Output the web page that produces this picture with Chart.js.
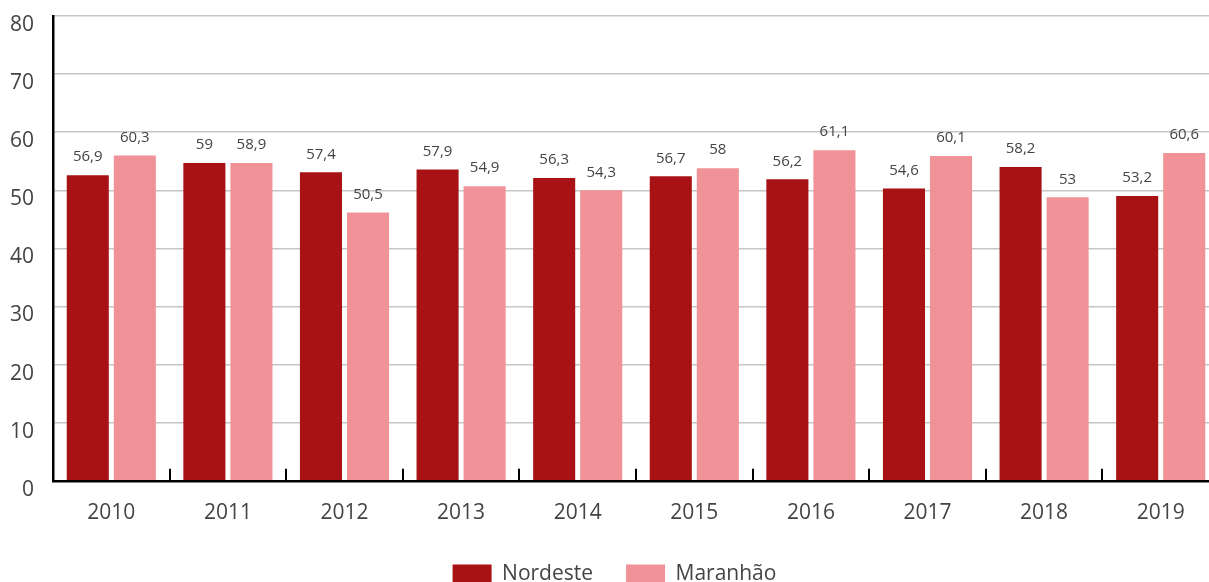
<!DOCTYPE html>
<html>
<head>
<meta charset="utf-8">
<script src="https://cdn.jsdelivr.net/npm/chart.js@4.4.0/dist/chart.umd.min.js"></script>
<style>
  body { margin: 0; overflow: hidden; background: #fff; }
  #wrap { width: 1229px; height: 595px; }
</style>
</head>
<body>
<div id="wrap"><canvas id="chart"></canvas></div>
<script>
// anos
const years = ['2010', '2011', '2012', '2013', '2014', '2015', '2016', '2017', '2018', '2019'];
// altura das barras como aparecem no gráfico
const nordeste = [52.6, 54.7, 53.1, 53.6, 52.1, 52.4, 51.9, 50.3, 54.0, 49.0];
const maranhao = [56.0, 54.7, 46.2, 50.7, 50.0, 53.8, 56.9, 55.9, 48.8, 56.4];
// rótulos escritos em cima das barras
const nordesteLabels = [56.9, 59, 57.4, 57.9, 56.3, 56.7, 56.2, 54.6, 58.2, 53.2];
const maranhaoLabels = [60.3, 58.9, 50.5, 54.9, 54.3, 58, 61.1, 60.1, 53, 60.6];
const yTicks = [0, 10, 20, 30, 40, 50, 60, 70, 80];

const FONT = "'Open Sans', sans-serif";
const TEXT = '#444444';

// rótulos acima das barras
const barLabels = {
    id: 'barLabels',
    afterDatasetsDraw(chart) {
        const ctx = chart.ctx;
        const all = [nordesteLabels, maranhaoLabels];
        ctx.save();
        ctx.font = '15px ' + FONT;
        ctx.fillStyle = TEXT;
        ctx.textAlign = 'center';
        ctx.textBaseline = 'middle';
        chart.data.datasets.forEach((ds, i) => {
            chart.getDatasetMeta(i).data.forEach((bar, j) => {
                const txt = String(all[i][j]).replace('.', ',');
                ctx.fillText(txt, bar.x, bar.y - 18);
            });
        });
        ctx.restore();
    }
};

// pequenas marcas entre os anos no eixo x
const xMarks = {
    id: 'xMarks',
    afterDraw(chart) {
        const ctx = chart.ctx;
        const x = chart.scales.x;
        const bottom = chart.chartArea.bottom;
        ctx.save();
        ctx.strokeStyle = '#000';
        ctx.lineWidth = 2;
        for (let i = 1; i < years.length; i++) {
            const px = Math.round((x.getPixelForTick(i - 1) + x.getPixelForTick(i)) / 2);
            ctx.beginPath();
            ctx.moveTo(px, bottom - 12);
            ctx.lineTo(px, bottom);
            ctx.stroke();
        }
        ctx.restore();
    }
};

new Chart(document.getElementById('chart'), {
    type: 'bar',
    data: {
        labels: years,
        datasets: [
            { label: 'Nordeste', data: nordeste, backgroundColor: '#a81214' },
            { label: 'Maranhão', data: maranhao, backgroundColor: '#f09297' }
        ]
    },
    options: {
        responsive: true,
        maintainAspectRatio: false,
        animation: false,
        datasets: { bar: { categoryPercentage: 0.807, barPercentage: 0.894 } },
        layout: { padding: { left: 10, right: 10, top: 16, bottom: 0 } },
        scales: {
            x: {
                offset: true,
                afterFit(scale) { scale.height -= 15; },
                grid: { display: false, drawTicks: false },
                border: { color: '#000', width: 2.5 },
                ticks: { color: TEXT, font: { family: FONT, size: 21 }, padding: 20, maxRotation: 0 }
            },
            y: {
                min: 0,
                max: 80,
                afterBuildTicks(scale) { scale.ticks = yTicks.map(v => ({ value: v })); },
                afterFit(scale) {
                    scale.width = 43;
                    scale.paddingTop = 0;
                    scale.paddingBottom = 0;
                },
                grid: { color: '#c6c6c6', lineWidth: 1.5, drawTicks: false },
                border: { color: '#000', width: 2.5 },
                ticks: { color: TEXT, font: { family: FONT, size: 21 }, padding: 19, labelOffset: 9 }
            }
        },
        plugins: {
            tooltip: { enabled: false },
            legend: {
                position: 'bottom',
                labels: {
                    boxWidth: 39,
                    boxHeight: 20,
                    padding: 33,
                    color: TEXT,
                    font: { family: FONT, size: 21 }
                }
            }
        }
    },
    plugins: [barLabels, xMarks]
});
</script>
</body>
</html>
